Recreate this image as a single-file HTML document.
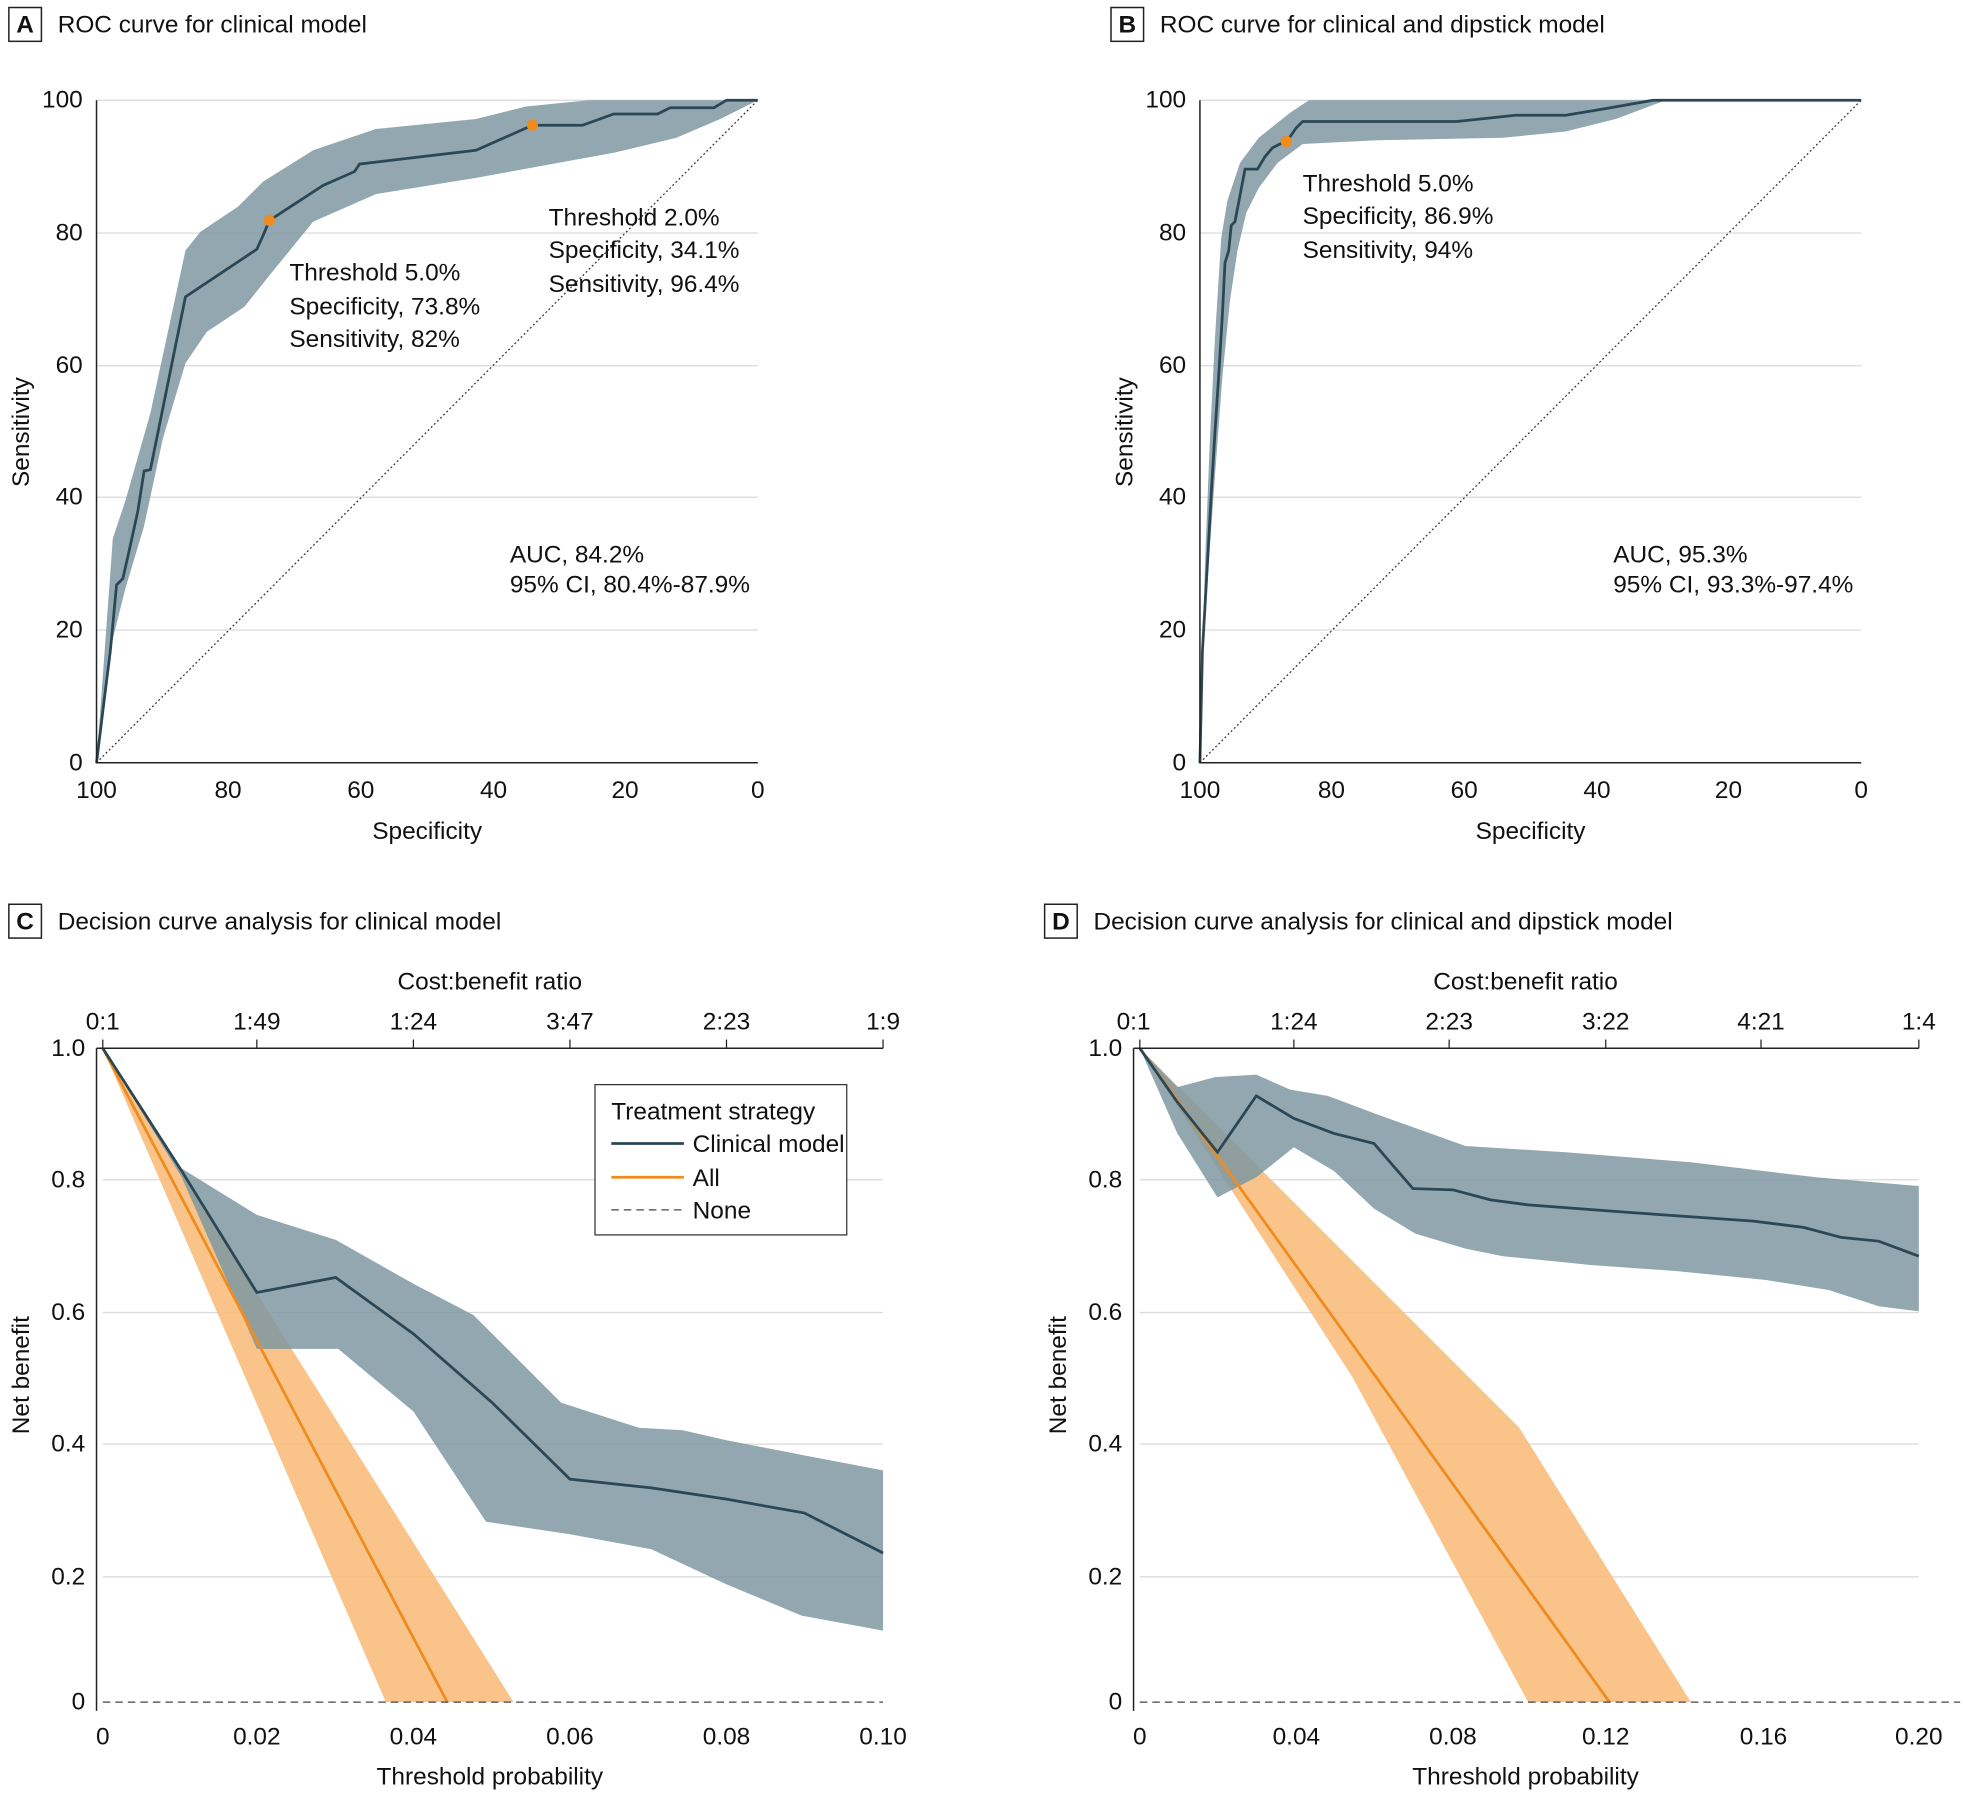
<!DOCTYPE html>
<html><head><meta charset="utf-8"><style>
html,body{margin:0;padding:0;background:#fff}
svg{display:block}
text{font-family:"Liberation Sans",sans-serif;font-size:19.5px;fill:#111}
.g{stroke:#d9d9d9;stroke-width:1}
.ax{stroke:#222;stroke-width:1.2;fill:none}
.band{fill:#7f98a2;fill-opacity:0.85}
.cur{stroke:#2b4756;stroke-width:2.2;fill:none}
.ob{fill:#f8bd7c;fill-opacity:0.9}
.ol{stroke:#ee8c1e;stroke-width:2.2;fill:none}
</style></head><body>
<svg width="1964" height="1796" viewBox="0 0 1568 1434" xmlns="http://www.w3.org/2000/svg">
<!-- Panel A -->
<rect x="7" y="6" width="26" height="27" fill="none" stroke="#222" stroke-width="1.2"/>
<text x="20" y="26" text-anchor="middle" font-weight="bold">A</text>
<text x="46" y="26">ROC curve for clinical model</text>
<g>
<line class="g" x1="77" x2="605" y1="80" y2="80"/><line class="g" x1="77" x2="605" y1="186" y2="186"/>
<line class="g" x1="77" x2="605" y1="292" y2="292"/><line class="g" x1="77" x2="605" y1="397" y2="397"/>
<line class="g" x1="77" x2="605" y1="503" y2="503"/>
<polygon class="band" points="77,609 90,430 100,400 120,330 148,200 160,185 190,165 210,145 250,120 300,103 380,95 420,85 470,80 605,80 575,95 540,110 490,122 380,142 300,155 250,177 215,220 195,245 165,265 148,290 130,350 115,420 100,470 90,510 77,609"/>
<line x1="77" y1="609" x2="605" y2="80" stroke="#333" stroke-width="1" stroke-dasharray="1.5,2"/>
<polyline class="cur" points="77,609 83,560 88,520 93,467 98,462 103,440 110,408 115,376 120,375 148,237 205,199 210,188 215,176 258,148 283,137 287,131 380,120 425,100 465,100 490,91 525,91 535,86 570,86 580,80 605,80"/>
<circle cx="215" cy="176" r="4.5" fill="#ee8c1e"/><circle cx="425" cy="100" r="4.5" fill="#ee8c1e"/>
<polyline class="ax" points="77,80 77,609 605,609"/>
<text x="66" y="86" text-anchor="end">100</text><text x="66" y="192" text-anchor="end">80</text><text x="66" y="298" text-anchor="end">60</text><text x="66" y="403" text-anchor="end">40</text><text x="66" y="509" text-anchor="end">20</text><text x="66" y="615" text-anchor="end">0</text>
<text x="77" y="637" text-anchor="middle">100</text><text x="182" y="637" text-anchor="middle">80</text><text x="288" y="637" text-anchor="middle">60</text><text x="394" y="637" text-anchor="middle">40</text><text x="499" y="637" text-anchor="middle">20</text><text x="605" y="637" text-anchor="middle">0</text>
<text x="341" y="670" text-anchor="middle">Specificity</text>
<text transform="translate(23,345) rotate(-90)" text-anchor="middle">Sensitivity</text>
<text x="231" y="224">Threshold 5.0%</text><text x="231" y="251">Specificity, 73.8%</text><text x="231" y="277">Sensitivity, 82%</text>
<text x="438" y="180">Threshold 2.0%</text><text x="438" y="206">Specificity, 34.1%</text><text x="438" y="233">Sensitivity, 96.4%</text>
<text x="407" y="449">AUC, 84.2%</text><text x="407" y="473">95% CI, 80.4%-87.9%</text>
</g>
<!-- Panel B -->
<rect x="887" y="6" width="26" height="27" fill="none" stroke="#222" stroke-width="1.2"/>
<text x="900" y="26" text-anchor="middle" font-weight="bold">B</text>
<text x="926" y="26">ROC curve for clinical and dipstick model</text>
<g>
<line class="g" x1="958" x2="1486" y1="80" y2="80"/><line class="g" x1="958" x2="1486" y1="186" y2="186"/>
<line class="g" x1="958" x2="1486" y1="292" y2="292"/><line class="g" x1="958" x2="1486" y1="397" y2="397"/>
<line class="g" x1="958" x2="1486" y1="503" y2="503"/>
<polygon class="band" points="958,609 962,450 966,350 970,270 975,190 980,160 990,130 1005,110 1030,90 1045,80 1486,80 1330,80 1290,95 1250,105 1200,110 1100,112 1040,115 1020,130 1005,150 995,170 988,200 982,240 976,300 970,380 965,450 960,520 958,609"/>
<line x1="958" y1="609" x2="1486" y2="80" stroke="#333" stroke-width="1" stroke-dasharray="1.5,2"/>
<polyline class="cur" points="958,609 960,520 964,450 967,395 970,345 973,300 976,250 978,210 981,200 983,180 986,177 994,135 1004,135 1010,125 1016,118 1022,115 1028,112 1035,102 1040,97 1163,97 1210,92 1250,92 1280,87 1320,80 1486,80"/>
<circle cx="1027" cy="113" r="4.5" fill="#ee8c1e"/>
<polyline class="ax" points="958,80 958,609 1486,609"/>
<text x="947" y="86" text-anchor="end">100</text><text x="947" y="192" text-anchor="end">80</text><text x="947" y="298" text-anchor="end">60</text><text x="947" y="403" text-anchor="end">40</text><text x="947" y="509" text-anchor="end">20</text><text x="947" y="615" text-anchor="end">0</text>
<text x="958" y="637" text-anchor="middle">100</text><text x="1063" y="637" text-anchor="middle">80</text><text x="1169" y="637" text-anchor="middle">60</text><text x="1275" y="637" text-anchor="middle">40</text><text x="1380" y="637" text-anchor="middle">20</text><text x="1486" y="637" text-anchor="middle">0</text>
<text x="1222" y="670" text-anchor="middle">Specificity</text>
<text transform="translate(904,345) rotate(-90)" text-anchor="middle">Sensitivity</text>
<text x="1040" y="153">Threshold 5.0%</text><text x="1040" y="179">Specificity, 86.9%</text><text x="1040" y="206">Sensitivity, 94%</text>
<text x="1288" y="449">AUC, 95.3%</text><text x="1288" y="473">95% CI, 93.3%-97.4%</text>
</g>
<!-- Panel C -->
<rect x="7" y="722" width="26" height="27" fill="none" stroke="#222" stroke-width="1.2"/>
<text x="20" y="742" text-anchor="middle" font-weight="bold">C</text>
<text x="46" y="742">Decision curve analysis for clinical model</text>
<g>
<line class="g" x1="82" x2="705" y1="942" y2="942"/><line class="g" x1="82" x2="705" y1="1048" y2="1048"/>
<line class="g" x1="82" x2="705" y1="1153" y2="1153"/><line class="g" x1="82" x2="705" y1="1259" y2="1259"/>
<polygon class="ob" points="82,837 410,1359 308,1359"/>
<polygon class="band" points="82,837 145,933 205,970 268,990 330,1025 378,1050 448,1120 510,1140 545,1142 580,1150 642,1162 705,1174 705,1302 640,1290 580,1265 520,1237 455,1225 388,1215 330,1127 270,1077 205,1077 145,940"/>
<line class="ol" x1="82" y1="837" x2="357" y2="1359"/>
<polyline class="cur" points="82,837 145,935 205,1032 268,1020 330,1065 393,1120 455,1181 520,1188 580,1197 642,1208 705,1240"/>
<line x1="82" y1="1359" x2="705" y2="1359" stroke="#444" stroke-width="1" stroke-dasharray="6,4"/>
<line class="ax" x1="77" y1="837" x2="705" y2="837"/>
<g stroke="#222"><line x1="82" y1="830" x2="82" y2="837"/><line x1="205" y1="830" x2="205" y2="837"/><line x1="330" y1="830" x2="330" y2="837"/><line x1="455" y1="830" x2="455" y2="837"/><line x1="580" y1="830" x2="580" y2="837"/><line x1="705" y1="830" x2="705" y2="837"/></g>
<line class="ax" x1="77" y1="837" x2="77" y2="1366"/>
<text x="82" y="822" text-anchor="middle">0:1</text><text x="205" y="822" text-anchor="middle">1:49</text><text x="330" y="822" text-anchor="middle">1:24</text><text x="455" y="822" text-anchor="middle">3:47</text><text x="580" y="822" text-anchor="middle">2:23</text><text x="705" y="822" text-anchor="middle">1:9</text>
<text x="391" y="790" text-anchor="middle">Cost:benefit ratio</text>
<text x="68" y="843" text-anchor="end">1.0</text><text x="68" y="948" text-anchor="end">0.8</text><text x="68" y="1054" text-anchor="end">0.6</text><text x="68" y="1159" text-anchor="end">0.4</text><text x="68" y="1265" text-anchor="end">0.2</text><text x="68" y="1365" text-anchor="end">0</text>
<text x="82" y="1393" text-anchor="middle">0</text><text x="205" y="1393" text-anchor="middle">0.02</text><text x="330" y="1393" text-anchor="middle">0.04</text><text x="455" y="1393" text-anchor="middle">0.06</text><text x="580" y="1393" text-anchor="middle">0.08</text><text x="705" y="1393" text-anchor="middle">0.10</text>
<text x="391" y="1425" text-anchor="middle">Threshold probability</text>
<text transform="translate(23,1098) rotate(-90)" text-anchor="middle">Net benefit</text>
<rect x="475" y="866" width="201" height="120" fill="#fff" stroke="#333" stroke-width="1"/>
<text x="488" y="894">Treatment strategy</text>
<line x1="488" y1="913" x2="546" y2="913" stroke="#2b4756" stroke-width="2.2"/><text x="553" y="920">Clinical model</text>
<line x1="488" y1="940" x2="546" y2="940" stroke="#ee8c1e" stroke-width="2.2"/><text x="553" y="947">All</text>
<line x1="488" y1="966" x2="546" y2="966" stroke="#444" stroke-width="1" stroke-dasharray="6,4"/><text x="553" y="973">None</text>
</g>
<!-- Panel D -->
<rect x="834" y="722" width="26" height="27" fill="none" stroke="#222" stroke-width="1.2"/>
<text x="847" y="742" text-anchor="middle" font-weight="bold">D</text>
<text x="873" y="742">Decision curve analysis for clinical and dipstick model</text>
<g>
<line class="g" x1="910" x2="1532" y1="942" y2="942"/><line class="g" x1="910" x2="1532" y1="1048" y2="1048"/>
<line class="g" x1="910" x2="1532" y1="1153" y2="1153"/><line class="g" x1="910" x2="1532" y1="1259" y2="1259"/>
<polygon class="ob" points="910,837 1213,1140 1350,1359 1220,1359 1080,1100"/>
<polygon class="band" points="910,837 940,868 970,860 1003,858 1030,870 1060,875 1100,890 1170,915 1250,920 1350,928 1450,940 1532,947 1532,1047 1500,1043 1460,1030 1410,1022 1340,1015 1270,1010 1200,1003 1170,997 1130,985 1097,965 1065,935 1033,916 1003,940 972,956 940,905"/>
<line class="ol" x1="910" y1="837" x2="1285" y2="1359"/>
<polyline class="cur" points="910,837 940,880 972,920 1003,875 1033,893 1065,905 1097,913 1128,949 1160,950 1190,958 1220,962 1300,968 1400,975 1440,980 1470,988 1500,991 1532,1003"/>
<line x1="910" y1="1359" x2="1565" y2="1359" stroke="#444" stroke-width="1" stroke-dasharray="6,4"/>
<line class="ax" x1="905" y1="837" x2="1532" y2="837"/>
<g stroke="#222"><line x1="910" y1="830" x2="910" y2="837"/><line x1="1033" y1="830" x2="1033" y2="837"/><line x1="1157" y1="830" x2="1157" y2="837"/><line x1="1282" y1="830" x2="1282" y2="837"/><line x1="1406" y1="830" x2="1406" y2="837"/><line x1="1532" y1="830" x2="1532" y2="837"/></g>
<line class="ax" x1="905" y1="837" x2="905" y2="1366"/>
<text x="905" y="822" text-anchor="middle">0:1</text><text x="1033" y="822" text-anchor="middle">1:24</text><text x="1157" y="822" text-anchor="middle">2:23</text><text x="1282" y="822" text-anchor="middle">3:22</text><text x="1406" y="822" text-anchor="middle">4:21</text><text x="1532" y="822" text-anchor="middle">1:4</text>
<text x="1218" y="790" text-anchor="middle">Cost:benefit ratio</text>
<text x="896" y="843" text-anchor="end">1.0</text><text x="896" y="948" text-anchor="end">0.8</text><text x="896" y="1054" text-anchor="end">0.6</text><text x="896" y="1159" text-anchor="end">0.4</text><text x="896" y="1265" text-anchor="end">0.2</text><text x="896" y="1365" text-anchor="end">0</text>
<text x="910" y="1393" text-anchor="middle">0</text><text x="1035" y="1393" text-anchor="middle">0.04</text><text x="1160" y="1393" text-anchor="middle">0.08</text><text x="1282" y="1393" text-anchor="middle">0.12</text><text x="1408" y="1393" text-anchor="middle">0.16</text><text x="1532" y="1393" text-anchor="middle">0.20</text>
<text x="1218" y="1425" text-anchor="middle">Threshold probability</text>
<text transform="translate(851,1098) rotate(-90)" text-anchor="middle">Net benefit</text>
</g>
</svg>
</body></html>
